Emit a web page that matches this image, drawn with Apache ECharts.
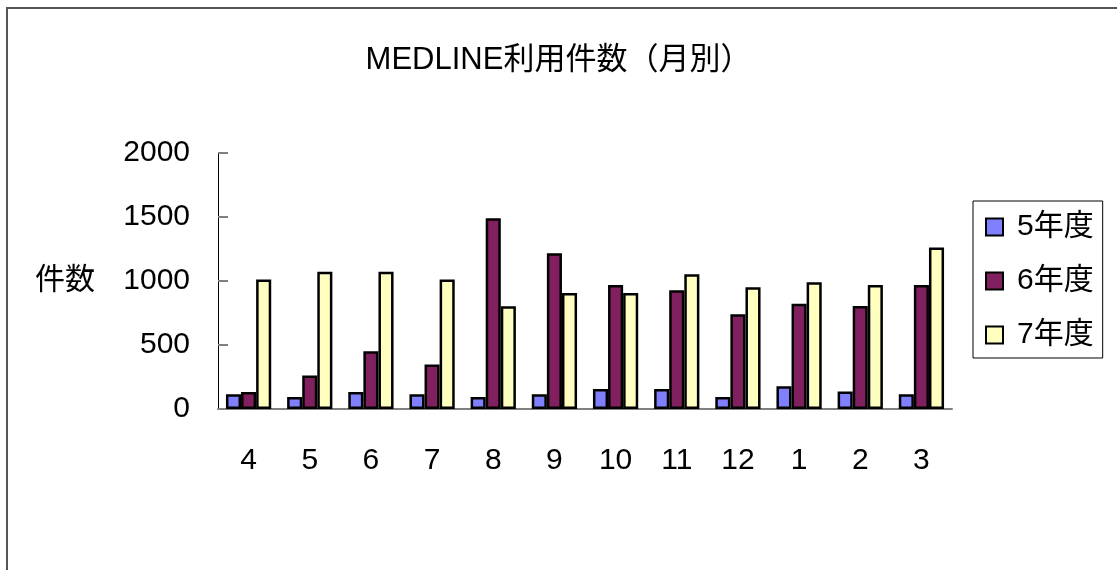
<!DOCTYPE html>
<html>
<head>
<meta charset="utf-8">
<script src="https://cdn.jsdelivr.net/npm/echarts@6/dist/echarts.min.js"></script>
<style>
  html, body { margin: 0; padding: 0; background: #fff; }
  #chart { width: 1117px; height: 570px; }
</style>
</head>
<body>
<div id="chart"></div>
<script>
// 月 (年度順: 4月〜翌3月)
var months = ['4', '5', '6', '7', '8', '9', '10', '11', '12', '1', '2', '3'];
var fy5 = [115, 94, 133, 115, 94, 115, 156, 156, 94, 177, 136, 115];
var fy6 = [133, 261, 451, 347, 1490, 1216, 969, 927, 740, 823, 805, 969];
var fy7 = [1011, 1073, 1073, 1011, 802, 906, 906, 1052, 951, 990, 969, 1261];
var yTicks = [0, 500, 1000, 1500, 2000];

var font = "'Liberation Sans', 'Noto Sans CJK JP', sans-serif";

var mychart = echarts.init(document.getElementById('chart'));

function barSeries(name, data, color) {
    return {
        name: name,
        type: 'bar',
        data: data,
        barGap: '0%',
        barCategoryGap: '26%',
        itemStyle: { color: color, borderColor: '#000', borderWidth: 2.5 }
    };
}

var option = {
    animation: false,
    backgroundColor: '#fff',
    textStyle: { fontFamily: font },
    title: {
        text: 'MEDLINE利用件数（月別）',
        left: 'center',
        top: 40,
        textStyle: { fontFamily: font, fontSize: 31, fontWeight: 'normal', color: '#000' }
    },
    graphic: [{
        type: 'rect',
        shape: { x: 7, y: 8, width: 1200, height: 700 },
        style: { fill: 'none', stroke: '#555', lineWidth: 2 }
    }],
    legend: {
        orient: 'vertical',
        left: 973,
        top: 201,
        padding: [11, 9, 8, 12],
        itemGap: 24,
        itemWidth: 17,
        itemHeight: 17,
        icon: 'rect',
        borderColor: '#000',
        borderWidth: 1,
        itemStyle: { borderColor: '#000', borderWidth: 2 },
        textStyle: { fontFamily: font, fontSize: 30, color: '#000', padding: [0, 0, 0, 9] },
        data: ['5年度', '6年度', '7年度']
    },
    grid: { left: 218, right: 165, top: 153, bottom: 161 },
    xAxis: {
        type: 'category',
        data: months,
        axisLine: { lineStyle: { color: '#808080', width: 2 } },
        axisTick: { inside: true, length: 10, lineStyle: { color: '#000' } },
        axisLabel: { margin: 37, fontFamily: font, fontSize: 30, color: '#000' }
    },
    yAxis: {
        type: 'value',
        min: yTicks[0],
        max: yTicks[yTicks.length - 1],
        interval: 500,
        name: '件数',
        nameLocation: 'middle',
        nameRotate: 0,
        nameGap: 123,
        nameTextStyle: { fontFamily: font, fontSize: 30, color: '#000', align: 'right' },
        axisLine: { show: true, lineStyle: { color: '#000', width: 1 } },
        axisTick: { show: true, inside: true, length: 10, lineStyle: { color: '#808080', width: 2 } },
        axisLabel: {
            margin: 28, fontFamily: font, fontSize: 30, color: '#000',
            formatter: function (v) { return String(v); }
        },
        splitLine: { show: false }
    },
    series: [
        barSeries('5年度', fy5, '#8080FF'),
        barSeries('6年度', fy6, '#80205F'),
        barSeries('7年度', fy7, '#FFFFC0')
    ]
};
mychart.setOption(option);
</script>
</body>
</html>
